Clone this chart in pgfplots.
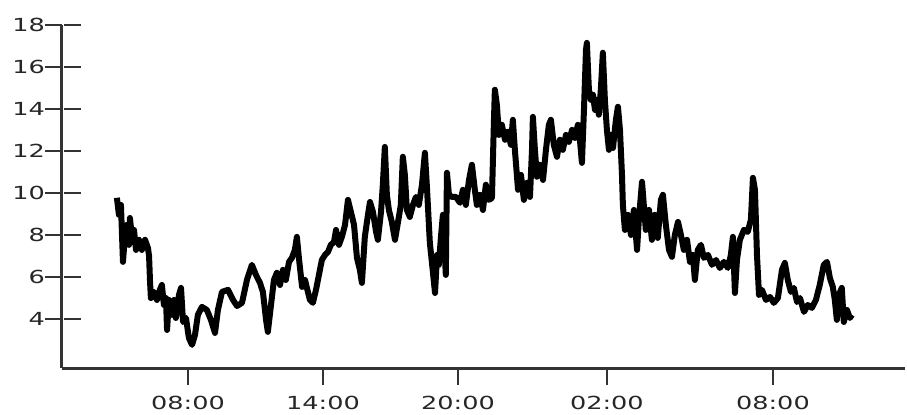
\documentclass[border=0pt]{standalone}
\usepackage{pgfplots}
\pgfplotsset{compat=1.18}
\usepackage{fontspec}
\setmainfont{DejaVu Sans}[FakeStretch=1.42]
\begin{document}
\begin{tikzpicture}
\begin{axis}[
  scale only axis,
  width=421.5pt, height=171.5pt,
  xmin=2.40, xmax=39.87,
  ymin=1.68, ymax=18,
  axis x line=bottom, axis y line=left,
  axis line style={-, line width=1.5pt, black!80},
  xtick={8,14,20,26.62,34},
  xticklabels={08:00,14:00,20:00,02:00,08:00},
  ytick={4,6,8,10,12,14,16,18},
  tick align=outside,
  major tick length=8.5pt,
  tick style={line width=1.1pt, black!80},
  /pgf/number format/assume math mode=true,
  tick label style={font=\fontsize{9}{11}\selectfont, text=black!85},
  xticklabel style={yshift=-2pt},
  yticklabel style={xshift=3.5pt},
  clip=false,
]
\addplot[black, line width=3pt, line join=round] coordinates {
(4.84,9.78)(4.93,8.97)(5.02,9.44)(5.11,6.73)(5.20,8.01)(5.29,8.49)(5.38,7.54)(5.42,8.82)
(5.51,7.87)(5.60,8.25)(5.69,7.30)(5.82,7.78)(5.95,7.30)(6.09,7.78)(6.22,7.39)(6.27,7.01)
(6.31,5.87)(6.35,5.01)(6.49,5.30)(6.62,4.92)(6.75,5.40)(6.84,5.63)(6.93,4.68)(7.02,5.01)
(7.07,3.49)(7.15,4.92)(7.29,4.21)(7.38,4.92)(7.46,4.06)(7.60,5.16)(7.69,5.49)(7.78,3.87)
(7.91,4.06)(8.04,3.11)(8.18,2.78)(8.31,3.25)(8.44,4.21)(8.62,4.59)(8.84,4.44)(9.02,3.97)
(9.20,3.35)(9.33,4.44)(9.51,5.30)(9.78,5.40)(10.00,4.92)(10.18,4.63)(10.40,4.78)(10.62,5.87)
(10.84,6.59)(11.02,6.11)(11.20,5.73)(11.33,5.30)(11.47,3.97)(11.55,3.40)(11.69,4.68)(11.82,5.87)
(11.95,6.21)(12.09,5.63)(12.22,6.35)(12.35,5.87)(12.49,6.73)(12.62,6.92)(12.75,7.30)(12.84,7.92)
(12.93,6.92)(13.07,5.54)(13.20,5.87)(13.33,5.30)(13.42,4.92)(13.55,4.78)(13.69,5.40)(13.82,6.11)
(13.95,6.82)(14.09,7.06)(14.22,7.20)(14.35,7.54)(14.49,7.68)(14.58,8.25)(14.71,7.54)(14.84,7.92)
(14.98,8.49)(15.11,9.68)(15.24,9.11)(15.38,8.49)(15.51,6.92)(15.64,6.35)(15.73,5.73)(15.86,7.92)
(16.00,8.97)(16.09,9.58)(16.22,9.11)(16.36,8.16)(16.44,7.78)(16.58,9.11)(16.66,10.40)(16.75,12.20)
(16.84,9.92)(16.93,9.20)(17.06,8.63)(17.20,7.78)(17.33,8.59)(17.46,9.44)(17.55,11.73)(17.64,10.87)
(17.73,9.20)(17.86,8.87)(18.00,9.44)(18.13,9.82)(18.26,9.44)(18.40,10.40)(18.53,11.92)(18.62,10.30)
(18.75,7.63)(18.84,6.73)(18.98,5.25)(19.07,7.06)(19.15,6.59)(19.24,7.87)(19.33,8.97)(19.46,6.11)
(19.51,10.97)(19.60,9.92)(19.73,9.82)(19.91,9.82)(20.09,9.54)(20.22,10.16)(20.35,9.44)(20.49,10.63)
(20.62,11.35)(20.75,10.16)(20.84,9.44)(20.98,9.92)(21.11,9.20)(21.24,10.40)(21.38,9.68)(21.51,9.77)
(21.60,13.49)(21.64,14.92)(21.73,14.20)(21.82,12.77)(21.95,13.25)(22.09,12.54)(22.22,12.92)(22.35,12.30)
(22.44,13.49)(22.53,12.06)(22.67,10.16)(22.80,10.87)(22.93,9.68)(23.07,10.49)(23.20,9.82)(23.29,12.06)
(23.33,13.63)(23.42,12.06)(23.51,10.78)(23.64,11.35)(23.78,10.63)(23.91,12.06)(24.04,13.25)(24.13,13.49)
(24.26,12.30)(24.40,11.73)(24.53,12.54)(24.66,12.06)(24.80,12.77)(24.93,12.44)(25.07,13.01)(25.20,12.63)
(25.33,13.25)(25.42,12.54)(25.51,11.44)(25.60,13.96)(25.69,16.82)(25.73,17.15)(25.82,14.92)(25.91,14.44)
(26.00,14.68)(26.09,13.96)(26.18,14.44)(26.26,13.73)(26.35,14.92)(26.44,16.68)(26.53,14.44)(26.62,13.01)
(26.71,12.06)(26.80,12.77)(26.89,12.15)(27.02,13.49)(27.11,14.11)(27.20,13.01)(27.29,10.87)(27.33,9.44)
(27.42,8.25)(27.55,8.97)(27.69,8.01)(27.82,9.20)(27.96,7.30)(28.04,8.73)(28.18,10.54)(28.26,9.44)
(28.35,8.25)(28.49,9.20)(28.62,7.78)(28.75,8.97)(28.88,7.87)(29.02,9.68)(29.11,9.92)(29.24,8.49)
(29.38,7.30)(29.51,6.97)(29.64,8.01)(29.78,8.63)(29.91,8.01)(30.04,7.30)(30.18,7.78)(30.31,6.73)
(30.44,7.06)(30.53,5.87)(30.66,7.30)(30.80,7.54)(30.93,6.92)(31.11,7.06)(31.29,6.59)(31.47,6.82)
(31.64,6.44)(31.82,6.73)(32.00,6.44)(32.13,7.06)(32.22,7.92)(32.31,5.25)(32.40,6.82)(32.53,7.78)
(32.71,8.25)(32.88,8.16)(33.02,8.73)(33.11,10.73)(33.20,10.16)(33.29,7.06)(33.38,5.16)(33.51,5.40)
(33.69,4.92)(33.87,5.06)(34.04,4.78)(34.22,5.01)(34.40,6.35)(34.53,6.68)(34.66,5.87)(34.80,5.30)
(34.93,5.49)(35.07,4.82)(35.20,5.01)(35.38,4.35)(35.55,4.68)(35.73,4.54)(35.91,4.92)(36.08,5.63)
(36.26,6.59)(36.40,6.73)(36.53,5.97)(36.66,5.54)(36.75,4.92)(36.84,3.97)(36.93,5.16)(37.06,5.49)
(37.15,3.87)(37.29,4.44)(37.42,4.06)(37.51,4.21)
};
\pgfplotsinvokeforeach{4,6,8,10,12,14,16,18}{
  \draw[line width=1.1pt, black!80] ([xshift=1pt]axis cs:2.40,#1) -- ([xshift=9.5pt]axis cs:2.40,#1);
}
\end{axis}
\pgfresetboundingbox
\path[use as bounding box] ([shift={(-31pt,-23pt)}]current axis.south west) rectangle ([shift={(1pt,12.5pt)}]current axis.north east);
\end{tikzpicture}
\end{document}
